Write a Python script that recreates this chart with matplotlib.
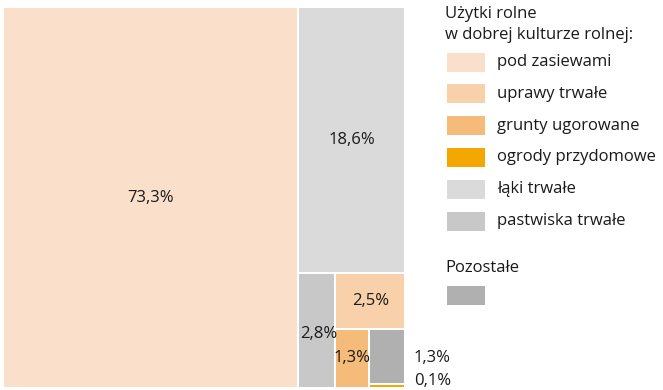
import matplotlib.pyplot as plt
from matplotlib.patches import Rectangle

plt.rcParams['font.family'] = ['Open Sans', 'DejaVu Sans']

# udziały powierzchni (%)
labels = ['pod zasiewami', 'uprawy trwałe', 'grunty ugorowane', 'ogrody przydomowe',
          'łąki trwałe', 'pastwiska trwałe', 'Pozostałe']
values = [73.3, 2.5, 1.3, 0.1, 18.6, 2.8, 1.3]
colors = ['#fae0ca', '#f8d0a9', '#f5bb78', '#f4a700', '#dadada', '#c8c8c8', '#b0b0b0']
text_lbl = ['73,3%', '2,5%', '1,3%', '0,1%', '18,6%', '2,8%', '1,3%']

# układ drzewa: ('h', ...) dzieli w poziomie, ('v', ...) w pionie, int = indeks kategorii
layout = ('h', 0, ('v', 4, ('h', 5, ('v', 1, ('h', 2, ('v', 6, 3))))))


def total(node):
    if isinstance(node, int):
        return values[node]
    return sum(total(c) for c in node[1:])


def place(node, x, y, w, h, out):
    if isinstance(node, int):
        out[node] = (x, y, w, h)
        return
    s = total(node)
    pos = 0
    for c in node[1:]:
        f = total(c) / s
        if node[0] == 'h':
            place(c, x + pos * w, y, f * w, h, out)
        else:
            place(c, x, y + pos * h, w, f * h, out)
        pos += f


rects = {}
place(layout, 3, 7, 402, 381, rects)

fig = plt.figure(figsize=(6.63, 3.90), dpi=100)
ax = fig.add_axes([0, 0, 1, 1])
ax.set_xlim(0, 663)
ax.set_ylim(390, 0)
ax.axis('off')

gap = 1.0
for i, (x, y, w, h) in rects.items():
    ax.add_patch(Rectangle((x + gap, y + gap), max(w - 2 * gap, 0.5), max(h - 2 * gap, 0.5),
                           facecolor=colors[i], edgecolor='none'))

fs = 12
tc = '#1a1a1a'
# etykiety wewnątrz
for i in [0, 4, 1, 2]:
    x, y, w, h = rects[i]
    ax.text(x + w / 2, y + h / 2, text_lbl[i], ha='center', va='center', fontsize=fs, color=tc)
x, y, w, h = rects[5]
ax.text(x + w / 2 + 2, y + h / 2 + 3, text_lbl[5], ha='center', va='center', fontsize=fs, color=tc)
# małe pola - etykiety obok
x, y, w, h = rects[6]
ax.text(414, y + h / 2 + 2, text_lbl[6], ha='left', va='center', fontsize=fs, color=tc)
x, y, w, h = rects[3]
ax.text(414, 381, text_lbl[3], ha='left', va='center', fontsize=fs, color=tc)

# legenda
ax.text(445, 14, 'Użytki rolne', ha='left', va='center', fontsize=fs, color=tc)
ax.text(445, 35, 'w dobrej kulturze rolnej:', ha='left', va='center', fontsize=fs, color=tc)
for k, i in enumerate([0, 1, 2, 3, 4, 5]):
    cy = 62 + k * 31.8
    ax.add_patch(Rectangle((447, cy - 9.5), 38, 19, facecolor=colors[i], edgecolor='none'))
    ax.text(497, cy, labels[i], ha='left', va='center', fontsize=fs, color=tc)
ax.text(445, 268, labels[6], ha='left', va='center', fontsize=fs, color=tc)
ax.add_patch(Rectangle((447, 286), 38, 19, facecolor=colors[6], edgecolor='none'))

fig.savefig('out.png', dpi=100)
